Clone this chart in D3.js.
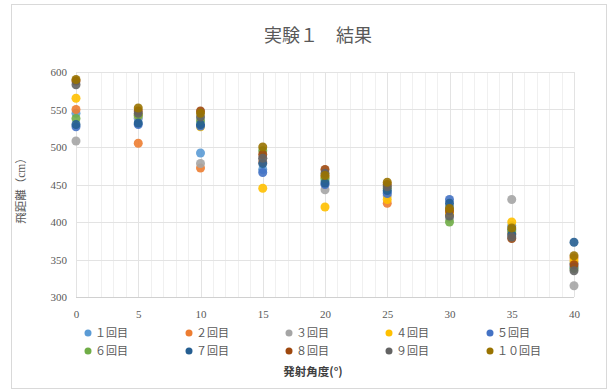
<!DOCTYPE html>
<meta charset="utf-8">
<style>
body { margin: 0; background: #fff; }
text { fill: #595959; font-family: "Liberation Serif", "Noto Sans CJK JP", serif; }
.title { font-size: 18px; }
.tick text { font-size: 11px; font-family: "Liberation Serif", serif; }
.legend text { font-size: 11px; }
.xlabel { font-size: 11.5px; font-weight: bold; fill: #404040; font-family: "Noto Sans CJK JP", sans-serif; }
.ylabel { font-size: 11.5px; }
</style>
<svg width="611" height="392"></svg>
<script src="https://cdnjs.cloudflare.com/ajax/libs/d3/7.8.5/d3.min.js"></script>
<script>

var angles = [0, 5, 10, 15, 20, 25, 30, 35, 40];
var seriesNames = ["１回目", "２回目", "３回目", "４回目", "５回目", "６回目", "７回目", "８回目", "９回目", "１０回目"];
var colors = ["#5B9BD5", "#ED7D31", "#A5A5A5", "#FFC000", "#4472C4", "#70AD47", "#255E91", "#9E480E", "#636363", "#997300"];

// distance (cm) per run, one value per angle
var run1  = [545, 538, 492, 470, 455, 440, 420, 395, 345];
var run2  = [550, 505, 472, 480, 460, 425, 410, 385, 352];
var run3  = [508, 540, 478, 485, 443, 435, 405, 430, 315];
var run4  = [565, 543, 527, 445, 420, 430, 412, 400, 348];
var run5  = [527, 530, 528, 466, 450, 438, 430, 390, 340];
var run6  = [538, 542, 535, 495, 458, 445, 400, 388, 338];
var run7  = [530, 532, 530, 478, 452, 442, 425, 383, 373];
var run8  = [588, 548, 548, 490, 470, 450, 415, 378, 343];
var run9  = [583, 545, 540, 485, 465, 447, 408, 380, 335];
var run10 = [590, 552, 545, 500, 462, 453, 418, 392, 355];
var runs = [run1, run2, run3, run4, run5, run6, run7, run8, run9, run10];

var yTicks = [300, 350, 400, 450, 500, 550, 600];

var svg = d3.select("svg");

// chart border
svg.append("rect")
    .attr("x", 11.5).attr("y", 4.5)
    .attr("width", 595).attr("height", 384)
    .attr("fill", "#fff")
    .attr("stroke", "#d9d9d9");

var pLeft = 76, pRight = 574, pTop = 72, pBottom = 297;

var x = d3.scaleLinear().domain([0, 40]).range([pLeft, pRight]);
var y = d3.scaleLinear().domain([300, 600]).range([pBottom, pTop]);

// minor vertical grid
svg.append("g").selectAll("line")
    .data(d3.range(0, 41, 1))
  .enter().append("line")
    .attr("x1", function(d) { return Math.round(x(d)) + 0.5; })
    .attr("x2", function(d) { return Math.round(x(d)) + 0.5; })
    .attr("y1", pTop).attr("y2", pBottom)
    .attr("stroke", "#f0f0f0");

// major grid
svg.append("g").selectAll("line")
    .data(angles)
  .enter().append("line")
    .attr("x1", function(d) { return Math.round(x(d)) + 0.5; })
    .attr("x2", function(d) { return Math.round(x(d)) + 0.5; })
    .attr("y1", pTop).attr("y2", pBottom)
    .attr("stroke", "#e3e3e3");

svg.append("g").selectAll("line")
    .data(yTicks)
  .enter().append("line")
    .attr("x1", pLeft).attr("x2", pRight)
    .attr("y1", function(d) { return Math.round(y(d)) + 0.5; })
    .attr("y2", function(d) { return Math.round(y(d)) + 0.5; })
    .attr("stroke", function(d) { return d == 300 ? "#d0d0d0" : "#e3e3e3"; });

// axes labels
var yAxis = svg.append("g")
    .attr("transform", "translate(" + (pLeft - 9) + ",0)")
    .call(d3.axisLeft(y).tickValues(yTicks).tickSize(0).tickPadding(0));
yAxis.select(".domain").remove();

var xAxis = svg.append("g")
    .attr("transform", "translate(0," + (pBottom + 13) + ")")
    .call(d3.axisBottom(x).tickValues(angles).tickSize(0).tickPadding(0));
xAxis.select(".domain").remove();

// points
runs.forEach(function(vals, i) {
  svg.append("g").selectAll("circle")
      .data(vals)
    .enter().append("circle")
      .attr("cx", function(d, j) { return x(angles[j]); })
      .attr("cy", function(d) { return y(d); })
      .attr("r", 4.5)
      .attr("fill", colors[i])
      .attr("fill-opacity", 0.9);
});

// title
svg.append("text")
    .attr("class", "title")
    .attr("x", 318).attr("y", 42)
    .attr("text-anchor", "middle")
    .text("実験１　結果");

// axis titles
svg.append("text")
    .attr("class", "ylabel")
    .attr("transform", "translate(25,188) rotate(-90)")
    .attr("text-anchor", "middle")
    .text("飛距離（cm）");

svg.append("text")
    .attr("class", "xlabel")
    .attr("x", 313).attr("y", 376)
    .attr("text-anchor", "middle")
    .text("発射角度(°)");

// legend
var legendX = [88, 189, 289, 389, 490];
var legend = svg.append("g").attr("class", "legend");
seriesNames.forEach(function(name, i) {
  var lx = legendX[i % 5], ly = i < 5 ? 333 : 351;
  legend.append("circle")
      .attr("cx", lx).attr("cy", ly).attr("r", 3.5)
      .attr("fill", colors[i]);
  legend.append("text")
      .attr("x", lx + 7).attr("y", ly + 4)
      .text(name);
});

</script>
